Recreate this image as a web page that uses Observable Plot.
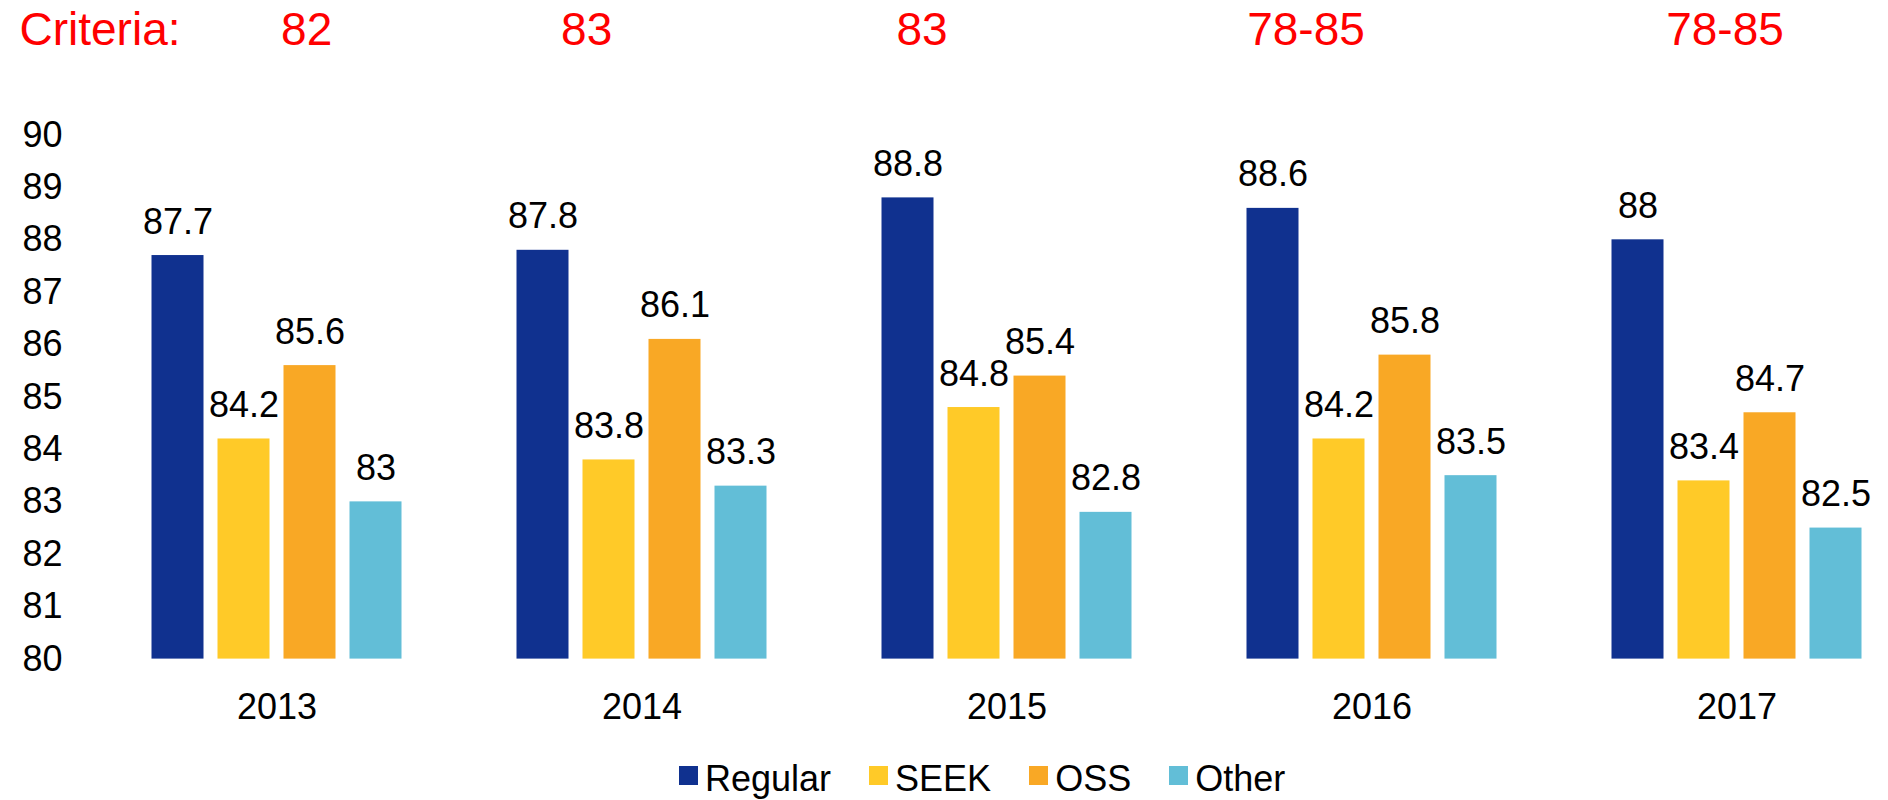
<!DOCTYPE html>
<html>
<head>
<meta charset="utf-8">
<script src="https://cdn.jsdelivr.net/npm/d3@7"></script>
<script src="https://cdn.jsdelivr.net/npm/@observablehq/plot@0.6"></script>
<style>
  html, body { margin: 0; padding: 0; background: #fff; }
  body { width: 1888px; height: 800px; overflow: hidden; font-family: "Liberation Sans", Arial, Helvetica, sans-serif; }
  #criteria { position: relative; height: 60px; color: #ff0000; font-size: 46px; line-height: 46px; }
  #criteria span { position: absolute; top: 6px; white-space: nowrap; }
  #chart { height: 680px; }
  #legend { position: relative; height: 60px; display: flex; align-items: flex-start; padding-left: 679px; padding-top: 21px; box-sizing: border-box; font-size: 36px; line-height: 36px; color: #000; }
  #legend .item { display: flex; align-items: flex-start; margin-right: 38px; }
  #legend .sw { width: 19px; height: 19px; margin-top: 5px; margin-right: 7px; }
</style>
</head>
<body>
<div id="criteria"></div>
<div id="chart"></div>
<div id="legend"></div>
<script>
// ---- data ----
const years = ["2013", "2014", "2015", "2016", "2017"];
const series = ["Regular", "SEEK", "OSS", "Other"];
const regular = [87.7, 87.8, 88.8, 88.6, 88];
const seek = [84.2, 83.8, 84.8, 84.2, 83.4];
const oss = [85.6, 86.1, 85.4, 85.8, 84.7];
const other = [83, 83.3, 82.8, 83.5, 82.5];
const colors = ["#10318F", "#FFCA28", "#F9A825", "#62BED7"];
const yTicks = [80, 81, 82, 83, 84, 85, 86, 87, 88, 89, 90];
const baseline = 80;
const criteriaTitle = "Criteria:";
const criteria = ["82", "83", "83", "78-85", "78-85"];

// ---- table built from arrays ----
const seriesValues = [regular, seek, oss, other];
const data = [];
years.forEach((yr, i) => {
  series.forEach((s, j) => {
    data.push({year: yr, series: s, value: seriesValues[j][i]});
  });
});

const plot = Plot.plot({
  width: 1888,
  height: 680,
  marginLeft: 134.5,
  marginRight: 10.5,
  marginTop: 74.5,
  marginBottom: 81.4,
  style: {fontSize: "36px", fontFamily: "'Liberation Sans', Arial, Helvetica, sans-serif", color: "#000", background: "#fff"},
  fx: {domain: years, paddingInner: 0.231, paddingOuter: 0, axis: "bottom", tickSize: 0, tickPadding: 34, label: null},
  x: {domain: series, padding: 0.213, axis: null},
  y: {domain: [yTicks[0], yTicks[yTicks.length - 1]], ticks: yTicks, tickSize: 0, tickPadding: 74, label: null, axis: "left"},
  color: {domain: series, range: colors},
  marks: [
    Plot.barY(data, {fx: "year", x: "series", y1: baseline, y2: "value", fill: "series"}),
    Plot.text(data, {fx: "year", x: "series", y: "value", text: d => String(d.value), dy: -33.5, fill: "#000"})
  ]
});
document.getElementById("chart").appendChild(plot);

// ---- criteria row (text placed above the groups) ----
const critDiv = document.getElementById("criteria");
const critCenters = [306.7, 586.7, 922, 1306, 1725];
const t = document.createElement("span");
t.textContent = criteriaTitle;
t.style.left = "19.5px";
critDiv.appendChild(t);
criteria.forEach((c, i) => {
  const s = document.createElement("span");
  s.textContent = c;
  s.style.left = critCenters[i] + "px";
  s.style.transform = "translateX(-50%)";
  critDiv.appendChild(s);
});

// ---- legend from the plot's colour scale ----
const colorScale = plot.scale("color");
const leg = document.getElementById("legend");
colorScale.domain.forEach((name, i) => {
  const item = document.createElement("div");
  item.className = "item";
  const sw = document.createElement("div");
  sw.className = "sw";
  sw.style.background = colorScale.range[i];
  const lab = document.createElement("span");
  lab.textContent = name;
  item.appendChild(sw);
  item.appendChild(lab);
  leg.appendChild(item);
});
</script>
</body>
</html>
